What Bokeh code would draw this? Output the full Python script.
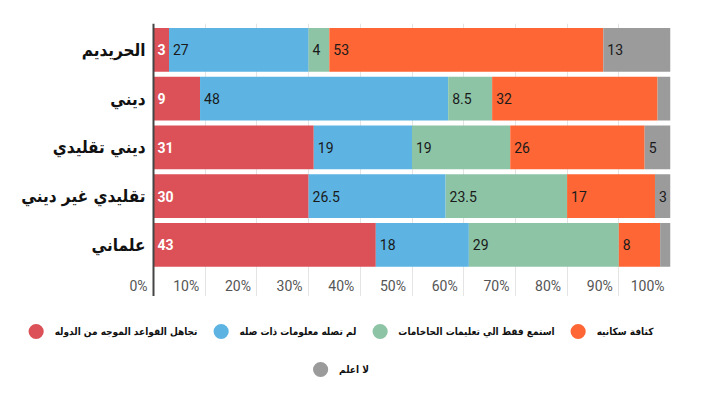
import numpy as np
from bokeh.plotting import figure
from bokeh.models import (Range1d, FixedTicker, ColumnDataSource, Legend, LegendItem,
                          LabelSet, Span)
from bokeh.layouts import column
from bokeh.core.properties import value
from bokeh.embed import file_html
from bokeh.resources import INLINE

# ---------------- data ----------------
categories = ["الحريديم", "ديني", "ديني تقليدي", "تقليدي غير ديني", "علماني"]
series_names = [
    "تجاهل القواعد الموجه من الدوله",
    "لم تصله معلومات ذات صله",
    "استمع فقط الي تعليمات الحاخامات",
    "كثافة سكانيه",
    "لا اعلم",
]
ignore_rules = [3, 9, 31, 30, 43]
no_info = [27, 48, 19, 26.5, 18]
rabbis_only = [4, 8.5, 19, 23.5, 29]
density = [53, 32, 26, 17, 8]
dont_know = [13, 2.5, 5, 3, 2]
tick_values = [0, 10, 20, 30, 40, 50, 60, 70, 80, 90, 100]
tick_labels = ["0%", "10%", "20%", "30%", "40%", "50%", "60%", "70%", "80%", "90%", "100%"]

series = [ignore_rules, no_info, rabbis_only, density, dont_know]
colors = ["#DB5157", "#5DB4E3", "#8DC4A6", "#FE6735", "#9B9B9B"]

NUM_FONT = value("Roboto")
AR_FONT = '"DejaVu Sans Condensed", "DejaVu Sans"'

ys = np.arange(len(categories))[::-1].astype(float)

# frame spans the label column too; 0% sits ZERO_PX right of the frame's left edge
FIG_W = 708
FRAME_W = 670
ZERO_PX = 153
x_start = -100.0 * ZERO_PX / (FRAME_W - ZERO_PX)

p = figure(width=FIG_W, height=296,
           x_range=Range1d(x_start, 100), y_range=Range1d(-1.06, 4.54),
           x_axis_location=None, y_axis_location=None,
           output_backend="svg", toolbar_location=None,
           min_border_left=0, min_border_right=FIG_W - FRAME_W,
           min_border_top=23, min_border_bottom=0)
p.outline_line_color = None
p.ygrid.visible = False
p.xgrid.ticker = FixedTicker(ticks=tick_values[1:])
p.xgrid.grid_line_color = "#E4E4E4"
p.xgrid.grid_line_width = 1

sources = []
left = np.zeros(len(categories))
for k, (vals, col) in enumerate(zip(series, colors)):
    vals = np.array(vals, dtype=float)
    right = left + vals
    src = ColumnDataSource(dict(y=ys, left=left.copy(), right=right))
    sources.append(src)
    p.hbar(y="y", left="left", right="right", height=0.9, source=src,
           fill_color=col, line_color=None)
    mask = vals >= 3
    lab_src = ColumnDataSource(dict(
        x=left[mask], y=ys[mask], text=[f"{v:g}" for v in vals[mask]]))
    p.add_layout(LabelSet(
        x="x", y="y", text="text", source=lab_src, x_offset=4,
        text_align="left", text_baseline="middle",
        text_font=NUM_FONT, text_font_size="14px",
        text_font_style="bold" if k == 0 else "normal",
        text_color="white" if k == 0 else "#1a1a1a"))
    left = right

# value axis line at 0
p.add_layout(Span(location=0, dimension="height", line_color="#444444", line_width=2))

# category labels
cat_src = ColumnDataSource(dict(x=np.zeros(len(categories)), y=ys, text=categories))
p.add_layout(LabelSet(
    x="x", y="y", text="text", source=cat_src, x_offset=-8,
    text_align="right", text_baseline="middle",
    text_font=value(AR_FONT), text_font_size="17px", text_font_style="bold",
    text_color="#111111"))

# value tick labels
tick_src = ColumnDataSource(dict(x=tick_values, text=tick_labels))
p.add_layout(LabelSet(
    x="x", y=-0.85, text="text", source=tick_src, x_offset=-6,
    text_align="right", text_baseline="middle",
    text_font=NUM_FONT, text_font_size="14px", text_color="#555555"))

# ---------------- legend ----------------
p2 = figure(width=FIG_W, height=93, x_range=Range1d(0, 1), y_range=Range1d(0, 1),
            x_axis_location=None, y_axis_location=None,
            output_backend="svg", toolbar_location=None,
            min_border_left=0, min_border_right=14,
            min_border_top=15, min_border_bottom=0)
p2.outline_line_color = None
p2.xgrid.visible = False
p2.ygrid.visible = False
rends = [p2.scatter(x="left", y="y", source=s, marker="circle", size=16,
                    fill_color=c, line_color=None, visible=False)
         for s, c in zip(sources, colors)]
items = [LegendItem(label=n, renderers=[r]) for n, r in zip(series_names, rends)]

common = dict(orientation="horizontal", margin=0, padding=0, spacing=4,
              glyph_width=38, glyph_height=40, label_standoff=0,
              border_line_color=None, background_fill_alpha=0,
              label_text_font=AR_FONT, label_text_font_size="10px",
              label_text_font_style="bold", label_text_color="#111111")
legend1 = Legend(items=items[:4], location="top_center", **common)
legend2 = Legend(items=items[4:], location="bottom_center", **common)
p2.add_layout(legend1)
p2.add_layout(legend2)

layout = column(p, p2, spacing=0)
open("out.html", "w").write(file_html(layout, INLINE))
